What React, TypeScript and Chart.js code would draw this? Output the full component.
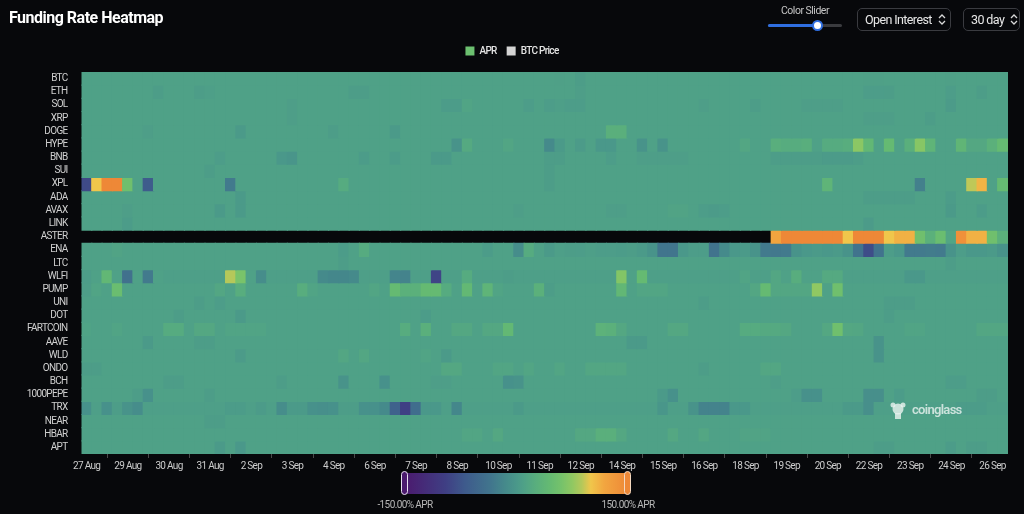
import React, { useEffect, useRef } from "react";
import { Chart, registerables } from "chart.js";

Chart.register(...registerables);

const FONT = "Roboto, 'Noto Sans', sans-serif";
const UI_FONT = "Roboto, 'Noto Sans', sans-serif";
const LETTER_SPACING = "-0.7px";

const coins = [
  "BTC", "ETH", "SOL", "XRP", "DOGE", "HYPE", "BNB", "SUI", "XPL", "ADA", "AVAX", "LINK", "ASTER", "ENA", "LTC",
  "WLFI", "PUMP", "UNI", "DOT", "FARTCOIN", "AAVE", "WLD", "ONDO", "BCH", "1000PEPE", "TRX", "NEAR", "HBAR", "APT",
];

const xTickLabels = [
  "27 Aug", "29 Aug", "30 Aug", "31 Aug", "2 Sep", "3 Sep", "4 Sep", "6 Sep", "7 Sep", "8 Sep", "10 Sep", "11 Sep",
  "12 Sep", "14 Sep", "15 Sep", "16 Sep", "18 Sep", "19 Sep", "20 Sep", "22 Sep", "23 Sep", "24 Sep", "26 Sep",
];

// 8h funding intervals, 27 Aug 16:00 -> 26 Sep 08:00 (90 columns)
const months = ["Jan", "Feb", "Mar", "Apr", "May", "Jun", "Jul", "Aug", "Sep", "Oct", "Nov", "Dec"];
const startTime = Date.UTC(2025, 7, 27, 16);
const timeLabels = Array.from({ length: 90 }, (_, i) => {
  const d = new Date(startTime + i * 8 * 3600 * 1000);
  return `${d.getUTCDate()} ${months[d.getUTCMonth()]} ${String(d.getUTCHours()).padStart(2, "0")}:00`;
});

// APR (%) per coin, 90 columns each
const aprBTC = [
  10,10,10,10,10,10,10,10,10,10, 10,10,10,10,10,10,10,10,10,10, 10,10,10,10,10,10,10,10,10,10,
  10,10,10,10,10,10,10,10,10,10, 10,10,10,10,10,10,9,10,6,10, 10,10,10,10,10,10,10,10,10,10,
  10,10,10,10,10,10,10,10,10,10, 10,10,10,10,10,10,9,9,10,10, 10,10,10,10,9,10,10,10,10,10,
];
const aprETH = [
  10,10,10,10,10,10,10,6,10,10, 10,6,8,10,10,10,10,10,10,10, 10,10,10,10,10,10,6,6,10,10,
  10,10,10,10,10,10,10,10,10,10, 10,10,10,10,10,10,10,10,7,10, 10,10,10,10,10,10,10,10,10,10,
  10,10,10,10,10,10,10,10,10,10, 10,10,10,10,10,10,5,5,6,10, 10,10,10,10,5,10,10,6,10,10,
];
const aprSOL = [
  10,10,10,10,10,10,10,10,10,10, 10,10,10,10,10,10,10,10,10,10, 7,10,10,10,10,10,10,10,10,10,
  10,10,10,10,10,4,4,14,10,10, 10,10,10,5,10,5,8,5,5,10, 10,10,10,10,10,10,10,10,10,10,
  7,10,10,10,10,6,10,10,10,10, 7,7,7,7,10,10,10,10,10,10, 10,10,10,10,3,10,10,10,10,10,
];
const aprXRP = [
  10,10,10,10,10,10,10,10,10,10, 10,10,10,10,10,10,10,10,10,10, 7,10,10,10,10,10,10,10,10,10,
  10,10,10,10,10,10,10,10,10,10, 10,10,10,10,10,10,10,10,10,10, 10,10,10,10,10,10,10,10,10,10,
  10,10,10,10,10,10,10,10,10,10, 10,10,10,10,10,10,7,7,7,10, 10,10,6,10,10,10,10,10,10,10,
];
const aprDOGE = [
  10,10,10,10,10,10,7,10,10,10, 10,10,10,10,10,2,10,10,10,10, 10,10,10,10,6,10,10,10,10,10,
  2,10,10,10,10,10,10,10,10,10, 10,10,10,10,10,10,10,10,10,10, 10,28,28,10,10,10,10,10,10,10,
  10,10,10,10,10,10,10,10,10,10, 10,10,10,10,10,10,10,10,10,10, 10,10,10,10,10,10,10,10,10,10,
];
const aprHYPE = [
  10,10,10,10,10,10,10,10,10,10, 10,10,10,10,10,10,10,10,10,10, 10,10,10,10,10,10,10,10,10,10,
  10,10,10,10,10,10,-5,20,10,10, 10,15,10,10,10,-15,2,10,3,10, 0,0,10,10,-5,10,-5,10,10,10,
  10,10,10,10,16,10,10,26,24,24, 26,10,22,22,25,72,40,10,45,10, 28,70,35,10,10,38,18,18,30,45,
];
const aprBNB = [
  10,10,10,10,10,10,10,10,10,10, 10,10,10,5,10,10,10,10,10,0, -3,10,10,10,10,10,10,4,10,10,
  4,10,10,10,2,2,10,10,10,10, 10,10,10,10,10,6,6,10,10,10, 10,5,10,10,7,7,7,7,7,10,
  10,10,10,10,10,10,10,6,6,6, 6,6,3,3,3,6,10,10,10,10, 10,10,10,10,10,10,10,10,10,10,
];
const aprSUI = [
  10,10,10,10,10,10,10,10,10,10, 10,10,6,10,10,10,10,10,10,10, 10,10,10,10,10,10,10,10,10,10,
  10,10,10,10,10,10,10,10,10,10, 10,10,10,10,10,6,10,10,10,10, 10,10,10,10,10,10,10,10,10,10,
  10,10,10,10,10,10,10,10,10,10, 10,10,10,10,10,10,10,10,10,10, 10,10,10,10,10,10,10,10,10,10,
];
const aprXPL = [
  -85,100,150,150,55,10,-68,10,10,10, 10,10,10,10,-30,10,10,10,10,10, 10,10,10,10,10,22,10,10,10,10,
  10,10,10,10,10,10,10,10,10,10, 10,10,10,10,10,6,10,10,10,10, 10,10,10,10,10,10,10,10,10,10,
  10,10,10,10,10,10,10,10,10,10, 10,10,35,10,10,10,10,10,10,10, 10,-25,10,10,10,10,90,110,10,45,
];
const aprADA = [
  10,10,10,10,10,10,10,10,10,10, 10,10,10,10,10,2,10,10,10,10, 10,10,10,10,10,10,10,10,10,10,
  10,10,10,10,10,10,10,10,10,10, 10,10,10,10,10,10,10,10,10,10, 10,10,10,10,10,10,10,10,10,10,
  10,10,10,10,10,10,10,10,10,10, 10,10,10,10,10,10,6,6,6,6, 6,10,10,10,4,10,10,10,10,10,
];
const aprAVAX = [
  10,10,10,10,7,10,10,10,10,10, 10,10,10,2,10,2,10,10,10,10, 10,10,10,10,10,10,10,10,10,10,
  10,10,10,10,10,10,10,10,10,10, 10,10,7,10,10,10,10,10,10,10, 10,7,7,10,10,10,10,13,13,10,
  5,3,5,10,10,10,10,10,10,10, 10,10,10,10,10,10,10,10,10,10, 10,10,10,10,2,10,10,4,10,10,
];
const aprLINK = [
  10,10,10,10,4,10,10,10,10,10, 10,10,10,10,10,10,10,10,10,10, 10,10,10,10,10,10,10,10,10,10,
  10,10,10,10,10,10,10,10,10,10, 10,10,10,10,10,10,10,10,10,10, 10,10,10,10,10,10,10,10,10,10,
  10,10,10,10,10,10,10,10,10,10, 10,10,10,10,10,10,3,10,10,10, 10,10,10,10,10,10,10,10,10,10,
];
const aprASTER = [
  null,null,null,null,null,null,null,null,null,null, null,null,null,null,null,null,null,null,null,null,
  null,null,null,null,null,null,null,null,null,null, null,null,null,null,null,null,null,null,null,null,
  null,null,null,null,null,null,null,null,null,null, null,null,null,null,null,null,null,null,null,null,
  null,null,null,null,null,null,null,120,150,150, 150,150,150,150,100,150,150,150,100,112,
  112,55,30,50,15,140,112,112,55,30,
];
const aprENA = [
  10,10,10,13,10,10,10,10,10,10, 10,10,10,10,10,10,10,10,10,10, 10,10,10,10,10,4,10,22,10,10,
  10,10,10,10,10,10,10,10,10,4, 10,10,-12,22,10,2,8,6,5,8, 5,5,4,6,2,-5,-35,-35,0,5,
  5,-38,-15,0,2,-5,-30,-32,-30,-5, 0,2,0,2,-5,-38,-82,-38,5,0, -30,-30,-28,-30,-5,5,0,0,2,-5,
];
const aprLTC = [
  10,10,10,10,10,10,10,10,10,10, 10,10,10,10,10,10,10,10,10,10, 10,10,10,10,10,6,10,10,10,10,
  10,10,10,10,10,10,10,10,10,10, 10,10,10,10,10,10,10,10,10,10, 10,10,10,10,10,10,10,10,10,10,
  10,10,10,10,10,10,10,10,10,10, 10,10,10,10,10,10,10,10,10,10, 10,10,10,10,6,10,10,10,10,10,
];
const aprWLFI = [
  5,10,40,10,-40,10,-30,10,8,8, 8,8,8,8,88,62,10,-12,8,8, 8,8,8,-15,-18,-18,-15,8,8,8,
  -20,-22,8,8,-90,8,8,22,8,8, 8,6,8,8,8,8,8,8,8,8, 8,8,68,10,45,8,8,8,8,8,
  8,8,8,8,14,8,8,16,10,25, 10,10,20,20,8,8,8,8,8,8, 0,0,8,8,8,8,8,8,8,8,
];
const aprPUMP = [
  7,14,10,50,10,10,10,10,10,10, 10,10,10,16,10,25,10,10,10,10, 10,25,14,10,10,10,10,10,15,10,
  45,30,30,45,45,22,10,42,10,35, 14,10,10,10,30,6,10,10,10,10, 10,10,40,10,15,15,15,10,10,10,
  10,10,10,10,10,16,45,16,16,16, 16,75,10,55,10,10,10,10,10,10, 10,10,10,10,10,10,10,10,10,10,
];
const aprUNI = [
  10,10,10,10,10,10,10,10,10,10, 10,6,10,5,10,10,10,10,10,10, 10,10,10,10,10,10,10,10,10,10,
  10,10,10,10,10,10,10,10,10,10, 10,10,10,10,10,10,10,10,10,10, 10,10,10,10,10,10,10,10,10,10,
  6,10,10,10,10,10,10,10,10,10, 10,10,10,10,10,10,10,10,6,6, 6,10,10,10,10,10,10,10,10,10,
];
const aprDOT = [
  10,10,10,10,10,10,10,10,10,6, 10,10,10,10,10,2,10,10,10,10, 10,10,10,10,10,10,10,10,10,10,
  10,10,10,4,10,10,10,10,10,10, 10,10,10,10,10,10,10,10,10,10, 10,10,10,10,10,10,10,10,10,10,
  10,10,10,10,10,10,10,10,10,10, 10,10,10,10,10,10,10,10,6,10, 10,10,10,10,10,10,10,10,10,10,
];
const aprFARTCOIN = [
  12,10,10,14,10,10,10,10,22,22, 10,18,18,10,14,14,14,14,10,10, 10,10,10,10,10,10,10,10,10,10,
  10,24,10,28,10,10,18,18,10,18, 18,42,10,10,10,10,10,10,10,10, 32,30,18,10,10,10,10,18,18,10,
  10,10,10,10,22,22,20,20,18,10, 10,10,18,55,18,16,10,10,10,10, 14,14,10,10,10,10,10,16,16,16,
];
const aprAAVE = [
  10,10,10,10,10,10,2,10,10,10, 10,6,6,10,10,10,10,10,10,10, 10,10,10,10,10,10,10,10,10,10,
  10,10,10,10,10,10,10,10,10,10, 10,10,10,10,10,10,10,10,10,10, 10,10,10,2,2,10,10,10,10,10,
  10,10,10,10,10,10,10,10,10,10, 10,10,10,10,10,10,10,-5,10,10, 10,10,10,10,10,10,10,10,10,10,
];
const aprWLD = [
  10,10,10,10,10,10,10,10,10,10, 10,10,10,10,10,3,10,10,10,10, 10,10,10,10,10,16,10,16,10,10,
  10,10,10,14,10,2,10,10,10,10, 10,10,10,10,10,10,10,10,10,10, 10,10,10,10,10,10,10,10,10,10,
  10,10,10,10,10,10,10,10,10,10, 10,10,10,10,10,10,10,-5,10,10, 10,10,10,10,10,10,10,10,10,10,
];
const aprONDO = [
  6,6,10,10,10,10,10,10,10,10, 10,10,10,10,10,10,10,10,10,10, 10,10,10,10,10,10,10,10,10,10,
  10,10,10,10,10,18,18,10,10,10, 15,15,10,15,10,10,15,10,10,16, 16,16,16,10,10,10,10,10,10,10,
  6,10,10,10,10,10,16,16,10,10, 10,10,10,10,10,10,10,10,10,10, 10,10,10,10,10,10,10,10,10,10,
];
const aprBCH = [
  10,10,10,10,10,10,10,10,6,6, 10,10,10,10,10,10,10,10,10,6, 10,10,10,10,10,-5,10,10,10,-8,
  10,10,10,10,7,7,10,10,10,10, 10,-8,-5,10,10,10,10,10,10,10, 10,10,10,10,10,10,10,10,10,10,
  10,10,10,10,10,10,10,7,10,10, 10,10,10,10,10,10,10,10,10,10, 10,10,10,10,5,5,10,10,10,10,
];
const aprPEPE = [
  10,10,10,10,10,6,-8,10,10,10, 10,10,6,10,10,10,10,10,10,10, 10,10,10,10,10,10,10,10,10,10,
  10,10,10,10,10,10,10,10,10,10, 10,10,10,10,10,10,10,10,10,10, 10,10,10,10,10,10,2,-8,10,10,
  10,10,10,10,10,10,10,10,10,5, -8,-8,10,10,10,10,-10,-10,10,4, 10,10,10,10,10,10,10,6,6,10,
];
const aprTRX = [
  -8,8,-8,6,-5,-12,8,8,8,8, 8,8,8,8,4,4,8,3,8,-12, 2,2,-8,-10,-8,6,6,-8,-8,-15,
  -60,-95,-45,0,0,8,-18,8,8,8, 8,8,2,8,8,8,8,8,8,8, 8,8,8,8,8,8,-2,8,8,-5,
  -22,-22,-22,0,0,8,8,8,8,8, 8,8,8,8,2,2,-10,8,8,8, 8,8,8,8,8,4,4,4,8,8,
];
const aprNEAR = [
  10,10,10,10,10,10,10,10,10,10, 10,10,6,6,10,10,10,10,10,10, 10,10,10,10,10,10,10,10,10,10,
  10,10,10,10,10,10,10,10,10,10, 10,10,10,10,10,10,10,10,10,10, 10,10,10,10,10,10,10,10,10,10,
  10,10,10,10,10,10,10,10,10,10, 10,10,10,10,10,10,10,10,10,10, 10,10,10,10,10,10,10,10,10,10,
];
const aprHBAR = [
  10,10,10,10,10,10,10,10,10,10, 10,10,10,10,10,10,10,10,10,10, 10,10,10,10,10,10,10,10,10,10,
  10,10,10,10,10,10,10,15,15,10, 18,10,10,10,10,10,10,10,18,18, 28,28,18,10,10,10,10,18,10,10,
  16,10,10,10,13,13,13,10,10,10, 10,10,10,10,10,10,10,10,10,10, 10,10,10,10,10,10,10,10,10,10,
];
const aprAPT = [
  10,10,10,10,10,10,10,10,10,10, 10,10,10,2,10,0,10,10,10,10, 10,10,10,10,10,10,10,10,10,10,
  10,10,10,10,10,10,10,10,10,10, 10,10,10,10,10,10,10,10,10,10, 10,10,10,10,10,10,10,10,10,10,
  10,10,10,10,10,10,10,10,10,10, 10,10,10,10,10,10,10,6,6,10, 10,10,10,10,4,10,6,6,10,10,
];

const aprRows: (number | null)[][] = [
  aprBTC, aprETH, aprSOL, aprXRP, aprDOGE, aprHYPE, aprBNB, aprSUI, aprXPL, aprADA, aprAVAX, aprLINK, aprASTER,
  aprENA, aprLTC, aprWLFI, aprPUMP, aprUNI, aprDOT, aprFARTCOIN, aprAAVE, aprWLD, aprONDO, aprBCH, aprPEPE,
  aprTRX, aprNEAR, aprHBAR, aprAPT,
];

const APR_MIN = -150;
const APR_MAX = 150;
const colorStops: [number, string][] = [
  [-150, "#4b1a6e"],
  [-95, "#3f3f84"],
  [-70, "#3e5a8c"],
  [-35, "#41758d"],
  [-15, "#458a8b"],
  [0, "#4a988a"],
  [10, "#4fa187"],
  [25, "#58ad7e"],
  [45, "#65ba72"],
  [60, "#75c26b"],
  [75, "#90c862"],
  [88, "#b5c85a"],
  [100, "#f0c64b"],
  [118, "#f2a640"],
  [150, "#ee8837"],
];

function hexToRgb(h: string) {
  const n = parseInt(h.slice(1), 16);
  return [(n >> 16) & 255, (n >> 8) & 255, n & 255];
}

function aprColor(v: number) {
  const x = Math.max(APR_MIN, Math.min(APR_MAX, v));
  for (let i = 0; i < colorStops.length - 1; i++) {
    const [v0, c0] = colorStops[i];
    const [v1, c1] = colorStops[i + 1];
    if (x >= v0 && x <= v1) {
      const t = (x - v0) / (v1 - v0);
      const a = hexToRgb(c0);
      const b = hexToRgb(c1);
      const c = a.map((q, k) => Math.round(q + (b[k] - q) * t));
      return `rgb(${c[0]},${c[1]},${c[2]})`;
    }
  }
  return colorStops[colorStops.length - 1][1];
}

const gradientCss =
  "linear-gradient(to right, " +
  colorStops.map(([v, c]) => `${c} ${(((v - APR_MIN) / (APR_MAX - APR_MIN)) * 100).toFixed(1)}%`).join(", ") +
  ")";

const setSpacing = (chart: any) => {
  if (chart && chart.ctx && "letterSpacing" in chart.ctx) chart.ctx.letterSpacing = LETTER_SPACING;
};

const condensedText = {
  id: "condensedText",
  afterInit: setSpacing,
  beforeUpdate: setSpacing,
  beforeLayout: setSpacing,
  beforeDraw: setSpacing,
};

const legendGap = {
  id: "legendGap",
  beforeInit(chart: any) {
    if (!chart.legend) return;
    const origFit = chart.legend.fit;
    chart.legend.fit = function () {
      origFit.bind(chart.legend)();
      this.height += 6;
    };
  },
};

const watermark = {
  id: "watermark",
  afterDatasetsDraw(chart: any) {
    const { ctx, chartArea } = chart;
    const x = chartArea.right - 118;
    const y = chartArea.bottom - 43;
    ctx.save();
    ctx.fillStyle = "rgba(232,242,238,0.82)";
    ctx.beginPath();
    ctx.arc(x + 8, y - 2, 5.5, 0, Math.PI * 2);
    ctx.fill();
    ctx.fillRect(x + 5, y + 2, 6, 6);
    ctx.beginPath();
    ctx.arc(x + 3, y - 6, 2.5, 0, Math.PI * 2);
    ctx.arc(x + 13, y - 6, 2.5, 0, Math.PI * 2);
    ctx.fill();
    ctx.font = `600 13px ${UI_FONT}`;
    ctx.textBaseline = "middle";
    ctx.fillText("coinglass", x + 22, y);
    ctx.restore();
  },
};

function Chevrons() {
  return (
    <svg width="8" height="13" viewBox="0 0 8 13" style={{ display: "block", flex: "none", marginLeft: 6 }}>
      <polyline points="1,5 4,2 7,5" fill="none" stroke="#d8d8d8" strokeWidth="1.3" />
      <polyline points="1,8 4,11 7,8" fill="none" stroke="#d8d8d8" strokeWidth="1.3" />
    </svg>
  );
}

export default function App() {
  const canvasRef = useRef<HTMLCanvasElement>(null);

  useEffect(() => {
    const canvas = canvasRef.current;
    if (!canvas) return;
    const datasets = coins.map((coin, r) => ({
      label: coin,
      data: aprRows[r].map((v) => (v === null ? null : [r, r + 1])),
      backgroundColor: aprRows[r].map((v) => (v === null ? "rgba(0,0,0,0)" : aprColor(v))),
      borderWidth: 0,
      inflateAmount: 0.6,
      grouped: false,
      categoryPercentage: 1,
      barPercentage: 1,
    }));

    const chart = new Chart(canvas, {
      type: "bar",
      data: { labels: timeLabels, datasets: datasets as any },
      plugins: [condensedText, legendGap, watermark],
      options: {
        animation: false,
        responsive: false,
        maintainAspectRatio: false,
        layout: { padding: { left: 16, right: 16, top: 36, bottom: 38 } },
        plugins: {
          legend: {
            display: true,
            position: "top",
            align: "center",
            onClick: () => {},
            labels: {
              boxWidth: 9,
              boxHeight: 9,
              padding: 10,
              color: "#e4e4e4",
              font: { family: UI_FONT, size: 10, weight: "500" },
              generateLabels: () => [
                { text: "APR", fillStyle: "#6cc070", strokeStyle: "#6cc070", lineWidth: 0, hidden: false, fontColor: "#e4e4e4" },
                { text: "BTC Price", fillStyle: "#d4d4d4", strokeStyle: "#d4d4d4", lineWidth: 0, hidden: false, fontColor: "#e4e4e4" },
              ] as any,
            },
          },
          tooltip: {
            callbacks: {
              title: (items: any) => items[0]?.label ?? "",
              label: (item: any) => {
                const v = aprRows[item.datasetIndex][item.dataIndex];
                return `${coins[item.datasetIndex]}: ${v === null ? "-" : v.toFixed(2) + "% APR"}`;
              },
            },
          },
        },
        scales: {
          x: {
            type: "category",
            offset: true,
            grid: {
              display: true,
              offset: true,
              drawOnChartArea: false,
              drawTicks: true,
              tickLength: 4,
              color: "#4a4a4a",
            },
            border: { display: false },
            ticks: {
              autoSkip: false,
              maxRotation: 0,
              minRotation: 0,
              padding: 2,
              color: "#cccccc",
              font: { family: FONT, size: 10 },
              callback: (_v: any, i: number) => (i % 4 === 0 ? xTickLabels[i / 4] : null),
            },
            afterFit: (s: any) => {
              s.height = 22;
            },
          },
          y: {
            type: "linear",
            min: 0,
            max: coins.length,
            reverse: true,
            grid: { display: false },
            border: { display: false },
            afterBuildTicks: (axis: any) => {
              axis.ticks = coins.map((_, i) => ({ value: i + 0.5 }));
            },
            ticks: {
              autoSkip: false,
              padding: 6,
              color: "#d0d0d0",
              font: { family: FONT, size: 10 },
              callback: (v: any) => coins[Math.floor(Number(v))],
            },
            afterFit: (s: any) => {
              s.width = 65.5;
            },
          },
        },
      } as any,
    });
    return () => chart.destroy();
  }, []);

  const boxStyle: React.CSSProperties = {
    position: "absolute",
    top: 8,
    height: 23,
    boxSizing: "border-box",
    border: "1px solid #3a3b40",
    borderRadius: 5,
    display: "flex",
    alignItems: "center",
    justifyContent: "space-between",
    padding: "0 8px 0 7px",
    color: "#e8e8e8",
    fontSize: 12.5,
    letterSpacing: -0.6,
    whiteSpace: "nowrap",
    fontFamily: UI_FONT,
  };

  return (
    <div
      style={{
        position: "fixed",
        left: 0,
        top: 0,
        width: 1024,
        height: 514,
        background: "#07080b",
        overflow: "hidden",
        fontFamily: UI_FONT,
      }}
    >
      <canvas
        ref={canvasRef}
        width={1024}
        height={514}
        style={{ position: "absolute", left: 0, top: 0, width: 1024, height: 514 }}
      />
      <div
        style={{
          position: "absolute",
          left: 9,
          top: 8,
          fontSize: 16,
          fontWeight: 700,
          color: "#ffffff",
          letterSpacing: -0.5,
          lineHeight: "20px",
          whiteSpace: "nowrap",
        }}
      >
        Funding Rate Heatmap
      </div>

      <div
        style={{
          position: "absolute",
          left: 760,
          top: 4,
          width: 90,
          textAlign: "center",
          fontSize: 10.5,
          letterSpacing: -0.5,
          color: "#c4c4c4",
          whiteSpace: "nowrap",
        }}
      >
        Color Slider
      </div>
      <div style={{ position: "absolute", left: 768, top: 24, width: 74, height: 3, borderRadius: 2, background: "#3a3b3f" }} />
      <div style={{ position: "absolute", left: 768, top: 24, width: 50, height: 3, borderRadius: 2, background: "#2f6ee0" }} />
      <div
        style={{
          position: "absolute",
          left: 812,
          top: 20,
          width: 11,
          height: 11,
          boxSizing: "border-box",
          borderRadius: "50%",
          background: "#ffffff",
          border: "2px solid #2f6ee0",
        }}
      />

      <div style={{ ...boxStyle, left: 857, width: 94 }}>
        <span>Open Interest</span>
        <Chevrons />
      </div>
      <div style={{ ...boxStyle, left: 963, width: 57 }}>
        <span>30 day</span>
        <Chevrons />
      </div>

      <div
        style={{
          position: "absolute",
          left: 405,
          top: 473,
          width: 223,
          height: 21,
          background: gradientCss,
        }}
      />
      <div
        style={{
          position: "absolute",
          left: 401,
          top: 471,
          width: 7,
          height: 24,
          boxSizing: "border-box",
          borderRadius: 4,
          border: "1.5px solid #e8e0f0",
          background: "#4b1a6e",
        }}
      />
      <div
        style={{
          position: "absolute",
          left: 624,
          top: 471,
          width: 7,
          height: 24,
          boxSizing: "border-box",
          borderRadius: 4,
          border: "1.5px solid #f4d8c0",
          background: "#ee8837",
        }}
      />
      <div
        style={{
          position: "absolute",
          left: 345,
          top: 499,
          width: 120,
          textAlign: "center",
          fontSize: 10,
          letterSpacing: -0.6,
          color: "#b8b8b8",
          fontFamily: FONT,
        }}
      >
        -150.00% APR
      </div>
      <div
        style={{
          position: "absolute",
          left: 568,
          top: 499,
          width: 120,
          textAlign: "center",
          fontSize: 10,
          letterSpacing: -0.6,
          color: "#b8b8b8",
          fontFamily: FONT,
        }}
      >
        150.00% APR
      </div>
    </div>
  );
}
